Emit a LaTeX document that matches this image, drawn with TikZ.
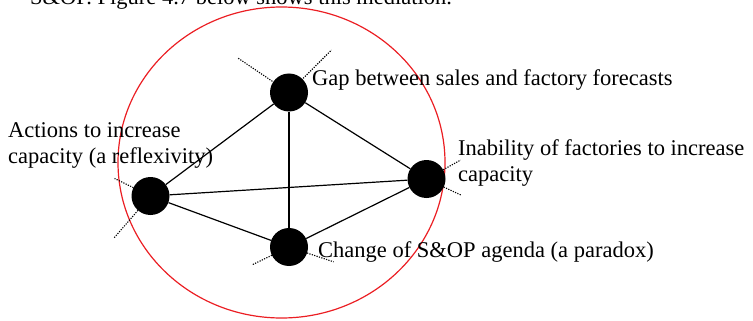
\documentclass[tikz,border=0pt]{standalone}
\usepackage{fontspec}
\setmainfont{Liberation Serif}
\begin{document}
\begin{tikzpicture}[x=1pt,y=-1pt,
  dot/.style={circle,fill=black,draw=none,minimum size=38pt,inner sep=0pt},
  lbl/.style={font=\fontsize{22.5}{26}\selectfont,inner sep=0pt,align=left},
  edge/.style={draw=black,line width=1.2pt},
  tick/.style={draw=black,line width=1.1pt,dash pattern=on 1.2pt off 1.3pt},
  ring/.style={draw={rgb,255:red,235;green,30;blue,35},line width=1.2pt}]
\useasboundingbox (0,0) rectangle (753,321);
% ring
\draw[ring] (281.5,162.5) ellipse [x radius=163.5pt, y radius=155.5pt];
% nodes
\node[dot] (top) at (289,92.5) {};
\node[dot] (lft) at (150.5,196) {};
\node[dot] (rgt) at (426.5,179) {};
\node[dot] (bot) at (289,247) {};
% edges
\draw[edge] (top) -- (lft);
\draw[edge] (top) -- (bot);
\draw[edge] (top) -- (rgt);
\draw[edge] (lft) -- (rgt);
\draw[edge] (lft) -- (bot);
\draw[edge] (bot) -- (rgt);
% dotted ticks
\draw[tick] (top) ++(146:20pt) -- ++(146:42pt);
\draw[tick] (top) ++(45:20pt) -- ++(45:40pt);
\draw[tick] (lft) ++(154:19pt) -- ++(154:21pt);
\draw[tick] (lft) ++(229:19pt) -- ++(229:37pt);
\draw[tick] (rgt) ++(29:19pt) -- ++(29:20pt);
\draw[tick] (rgt) ++(-25:19pt) -- ++(-25:19pt);
\draw[tick] (bot) ++(205.8:19pt) -- ++(205.8:22pt);
\draw[tick] (bot) ++(-18.4:19pt) -- ++(-18.4:28pt);
% labels
\node[lbl,anchor=base west] (tgap) at (312,85) {Gap between sales and factory forecasts};
\node[lbl,anchor=base west] (tinab) at (458,181) {Inability of factories to increase\\capacity};
\node[lbl,anchor=base west] (tact) at (8,163) {Actions to increase\\capacity (a reflexivity)};
\node[lbl,anchor=base west] (tchg) at (318,257) {Change of S\&OP agenda (a paradox)};
\node[lbl,anchor=base west] (ttop) at (30,5) {S\&OP. Figure 4.7 below shows this mediation.};
\end{tikzpicture}
\end{document}
